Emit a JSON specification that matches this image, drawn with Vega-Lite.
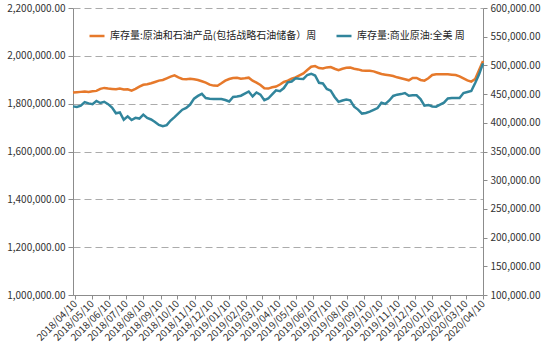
{
  "$schema": "https://vega.github.io/schema/vega-lite/v6.json",
  "width": 410,
  "height": 287,
  "autosize": {"type": "none"},
  "padding": {"left": 73, "top": 8, "right": 67, "bottom": 61},
  "background": "white",
  "config": {
    "font": "Noto Sans CJK SC",
    "view": {"stroke": null},
    "axis": {"labelFont": "Noto Sans CJK SC", "labelFontSize": 10, "labelColor": "#333333", "domainColor": "#8c8c8c", "tickColor": "#8c8c8c", "title": null}
  },
  "data": {"values": [
    {"date": "2018-04-06", "total": 1846500, "commercial": 428600},
    {"date": "2018-04-13", "total": 1847900, "commercial": 427600},
    {"date": "2018-04-20", "total": 1849300, "commercial": 429700},
    {"date": "2018-04-27", "total": 1850600, "commercial": 436000},
    {"date": "2018-05-04", "total": 1849300, "commercial": 433800},
    {"date": "2018-05-11", "total": 1852000, "commercial": 432400},
    {"date": "2018-05-18", "total": 1853400, "commercial": 438100},
    {"date": "2018-05-25", "total": 1861700, "commercial": 434500},
    {"date": "2018-06-01", "total": 1865900, "commercial": 436600},
    {"date": "2018-06-08", "total": 1863100, "commercial": 432500},
    {"date": "2018-06-15", "total": 1861700, "commercial": 426600},
    {"date": "2018-06-22", "total": 1860300, "commercial": 416600},
    {"date": "2018-06-29", "total": 1863100, "commercial": 417900},
    {"date": "2018-07-06", "total": 1858900, "commercial": 405200},
    {"date": "2018-07-13", "total": 1860300, "commercial": 411100},
    {"date": "2018-07-20", "total": 1854800, "commercial": 404900},
    {"date": "2018-07-27", "total": 1861700, "commercial": 408700},
    {"date": "2018-08-03", "total": 1871400, "commercial": 407400},
    {"date": "2018-08-10", "total": 1879000, "commercial": 414200},
    {"date": "2018-08-17", "total": 1881000, "commercial": 408400},
    {"date": "2018-08-24", "total": 1885200, "commercial": 405800},
    {"date": "2018-08-31", "total": 1890700, "commercial": 401500},
    {"date": "2018-09-07", "total": 1896300, "commercial": 396200},
    {"date": "2018-09-14", "total": 1899000, "commercial": 394100},
    {"date": "2018-09-21", "total": 1906000, "commercial": 395900},
    {"date": "2018-09-28", "total": 1912900, "commercial": 403900},
    {"date": "2018-10-05", "total": 1918400, "commercial": 410000},
    {"date": "2018-10-12", "total": 1910100, "commercial": 416400},
    {"date": "2018-10-19", "total": 1903200, "commercial": 422800},
    {"date": "2018-10-26", "total": 1901800, "commercial": 426000},
    {"date": "2018-11-02", "total": 1904600, "commercial": 431800},
    {"date": "2018-11-09", "total": 1901800, "commercial": 442100},
    {"date": "2018-11-16", "total": 1899000, "commercial": 446900},
    {"date": "2018-11-23", "total": 1893500, "commercial": 450500},
    {"date": "2018-11-30", "total": 1888000, "commercial": 443200},
    {"date": "2018-12-07", "total": 1879700, "commercial": 442000},
    {"date": "2018-12-14", "total": 1875500, "commercial": 441500},
    {"date": "2018-12-21", "total": 1875000, "commercial": 441500},
    {"date": "2018-12-28", "total": 1885200, "commercial": 441400},
    {"date": "2019-01-04", "total": 1896300, "commercial": 439700},
    {"date": "2019-01-11", "total": 1903200, "commercial": 437100},
    {"date": "2019-01-18", "total": 1907300, "commercial": 445000},
    {"date": "2019-01-25", "total": 1908700, "commercial": 445900},
    {"date": "2019-02-01", "total": 1904600, "commercial": 447200},
    {"date": "2019-02-08", "total": 1906000, "commercial": 450800},
    {"date": "2019-02-15", "total": 1908700, "commercial": 454500},
    {"date": "2019-02-22", "total": 1896300, "commercial": 445900},
    {"date": "2019-03-01", "total": 1888000, "commercial": 452900},
    {"date": "2019-03-08", "total": 1878300, "commercial": 449100},
    {"date": "2019-03-15", "total": 1864500, "commercial": 439500},
    {"date": "2019-03-22", "total": 1863100, "commercial": 442300},
    {"date": "2019-03-29", "total": 1868600, "commercial": 449500},
    {"date": "2019-04-05", "total": 1871400, "commercial": 456600},
    {"date": "2019-04-12", "total": 1880000, "commercial": 455200},
    {"date": "2019-04-19", "total": 1890700, "commercial": 460600},
    {"date": "2019-04-26", "total": 1896300, "commercial": 470600},
    {"date": "2019-05-03", "total": 1904600, "commercial": 472000},
    {"date": "2019-05-10", "total": 1910100, "commercial": 477500},
    {"date": "2019-05-17", "total": 1918400, "commercial": 476800},
    {"date": "2019-05-24", "total": 1926700, "commercial": 476500},
    {"date": "2019-05-31", "total": 1940500, "commercial": 483300},
    {"date": "2019-06-07", "total": 1954400, "commercial": 485500},
    {"date": "2019-06-14", "total": 1957100, "commercial": 482400},
    {"date": "2019-06-21", "total": 1948800, "commercial": 469600},
    {"date": "2019-06-28", "total": 1947400, "commercial": 468500},
    {"date": "2019-07-05", "total": 1951600, "commercial": 459000},
    {"date": "2019-07-12", "total": 1953000, "commercial": 455900},
    {"date": "2019-07-19", "total": 1946100, "commercial": 445000},
    {"date": "2019-07-26", "total": 1940500, "commercial": 436500},
    {"date": "2019-08-02", "total": 1946100, "commercial": 438900},
    {"date": "2019-08-09", "total": 1950200, "commercial": 440500},
    {"date": "2019-08-16", "total": 1951000, "commercial": 439100},
    {"date": "2019-08-23", "total": 1946000, "commercial": 428100},
    {"date": "2019-08-30", "total": 1943300, "commercial": 423000},
    {"date": "2019-09-06", "total": 1939100, "commercial": 416100},
    {"date": "2019-09-13", "total": 1937800, "commercial": 417100},
    {"date": "2019-09-20", "total": 1937800, "commercial": 419500},
    {"date": "2019-09-27", "total": 1935000, "commercial": 422600},
    {"date": "2019-10-04", "total": 1929500, "commercial": 425600},
    {"date": "2019-10-11", "total": 1924000, "commercial": 434900},
    {"date": "2019-10-18", "total": 1921200, "commercial": 432900},
    {"date": "2019-10-25", "total": 1918400, "commercial": 438900},
    {"date": "2019-11-01", "total": 1915700, "commercial": 446800},
    {"date": "2019-11-08", "total": 1910100, "commercial": 449000},
    {"date": "2019-11-15", "total": 1906000, "commercial": 450000},
    {"date": "2019-11-22", "total": 1901800, "commercial": 451900},
    {"date": "2019-11-29", "total": 1897600, "commercial": 447100},
    {"date": "2019-12-06", "total": 1907300, "commercial": 447900},
    {"date": "2019-12-13", "total": 1907300, "commercial": 447800},
    {"date": "2019-12-20", "total": 1899000, "commercial": 441400},
    {"date": "2019-12-27", "total": 1896300, "commercial": 429900},
    {"date": "2020-01-03", "total": 1906000, "commercial": 431100},
    {"date": "2020-01-10", "total": 1919800, "commercial": 428500},
    {"date": "2020-01-17", "total": 1922500, "commercial": 428100},
    {"date": "2020-01-24", "total": 1922500, "commercial": 431700},
    {"date": "2020-01-31", "total": 1922500, "commercial": 435100},
    {"date": "2020-02-07", "total": 1922500, "commercial": 442500},
    {"date": "2020-02-14", "total": 1921200, "commercial": 443300},
    {"date": "2020-02-21", "total": 1919800, "commercial": 443300},
    {"date": "2020-02-28", "total": 1914300, "commercial": 443100},
    {"date": "2020-03-06", "total": 1906000, "commercial": 451800},
    {"date": "2020-03-13", "total": 1897600, "commercial": 453700},
    {"date": "2020-03-20", "total": 1892100, "commercial": 455400},
    {"date": "2020-03-27", "total": 1903200, "commercial": 469200},
    {"date": "2020-04-03", "total": 1940500, "commercial": 484400},
    {"date": "2020-04-10", "total": 1978000, "commercial": 503600}
  ]},
  "encoding": {
    "x": {
      "field": "date",
      "type": "temporal",
      "scale": {"type": "utc", "domain": [{"year": 2018, "month": 4, "date": 6, "utc": true}, {"year": 2020, "month": 4, "date": 10, "utc": true}]},
      "axis": {
        "values": [
          {"year": 2018, "month": 4, "date": 10, "utc": true},
          {"year": 2018, "month": 5, "date": 10, "utc": true},
          {"year": 2018, "month": 6, "date": 10, "utc": true},
          {"year": 2018, "month": 7, "date": 10, "utc": true},
          {"year": 2018, "month": 8, "date": 10, "utc": true},
          {"year": 2018, "month": 9, "date": 10, "utc": true},
          {"year": 2018, "month": 10, "date": 10, "utc": true},
          {"year": 2018, "month": 11, "date": 10, "utc": true},
          {"year": 2018, "month": 12, "date": 10, "utc": true},
          {"year": 2019, "month": 1, "date": 10, "utc": true},
          {"year": 2019, "month": 2, "date": 10, "utc": true},
          {"year": 2019, "month": 3, "date": 10, "utc": true},
          {"year": 2019, "month": 4, "date": 10, "utc": true},
          {"year": 2019, "month": 5, "date": 10, "utc": true},
          {"year": 2019, "month": 6, "date": 10, "utc": true},
          {"year": 2019, "month": 7, "date": 10, "utc": true},
          {"year": 2019, "month": 8, "date": 10, "utc": true},
          {"year": 2019, "month": 9, "date": 10, "utc": true},
          {"year": 2019, "month": 10, "date": 10, "utc": true},
          {"year": 2019, "month": 11, "date": 10, "utc": true},
          {"year": 2019, "month": 12, "date": 10, "utc": true},
          {"year": 2020, "month": 1, "date": 10, "utc": true},
          {"year": 2020, "month": 2, "date": 10, "utc": true},
          {"year": 2020, "month": 3, "date": 10, "utc": true},
          {"year": 2020, "month": 4, "date": 10, "utc": true}
        ],
        "format": "%Y/%m/%d",
        "labelAngle": -45,
        "labelAlign": "right",
        "labelBaseline": "middle",
        "labelPadding": 3,
        "tickSize": 4,
        "grid": false,
        "labelOverlap": false,
        "title": null
      }
    }
  },
  "layer": [
    {
      "mark": {"type": "line", "strokeWidth": 2.5},
      "encoding": {
        "y": {
          "field": "total",
          "type": "quantitative",
          "scale": {"domain": [1000000, 2200000], "nice": false, "zero": false},
          "axis": {
            "values": [1000000, 1200000, 1400000, 1600000, 1800000, 2000000, 2200000],
            "format": ",.2f",
            "grid": true,
            "gridDash": [7, 4],
            "gridColor": "#ababab",
            "gridWidth": 1,
            "tickSize": 5,
            "labelPadding": 3,
            "title": null
          }
        },
        "color": {
          "datum": "库存量:原油和石油产品(包括战略石油储备）周",
          "type": "nominal",
          "scale": {
            "domain": ["库存量:原油和石油产品(包括战略石油储备）周", "库存量:商业原油:全美  周"],
            "range": ["#E6792B", "#31859C"]
          },
          "legend": {
            "orient": "none",
            "legendX": 15,
            "legendY": 19,
            "direction": "horizontal",
            "title": null,
            "padding": 0,
            "symbolType": "stroke",
            "symbolStrokeWidth": 2.5,
            "symbolSize": 225,
            "labelFontSize": 10,
            "labelColor": "#222222",
            "labelLimit": 400,
            "columnPadding": 14
          }
        }
      }
    },
    {
      "mark": {"type": "line", "strokeWidth": 2.5},
      "encoding": {
        "y": {
          "field": "commercial",
          "type": "quantitative",
          "scale": {"domain": [100000, 600000], "nice": false, "zero": false},
          "axis": {
            "orient": "right",
            "values": [100000, 150000, 200000, 250000, 300000, 350000, 400000, 450000, 500000, 550000, 600000],
            "format": ",.2f",
            "grid": false,
            "tickSize": 4,
            "labelPadding": 3,
            "title": null
          }
        },
        "color": {"datum": "库存量:商业原油:全美  周", "type": "nominal"}
      }
    }
  ],
  "resolve": {"scale": {"y": "independent"}}
}
